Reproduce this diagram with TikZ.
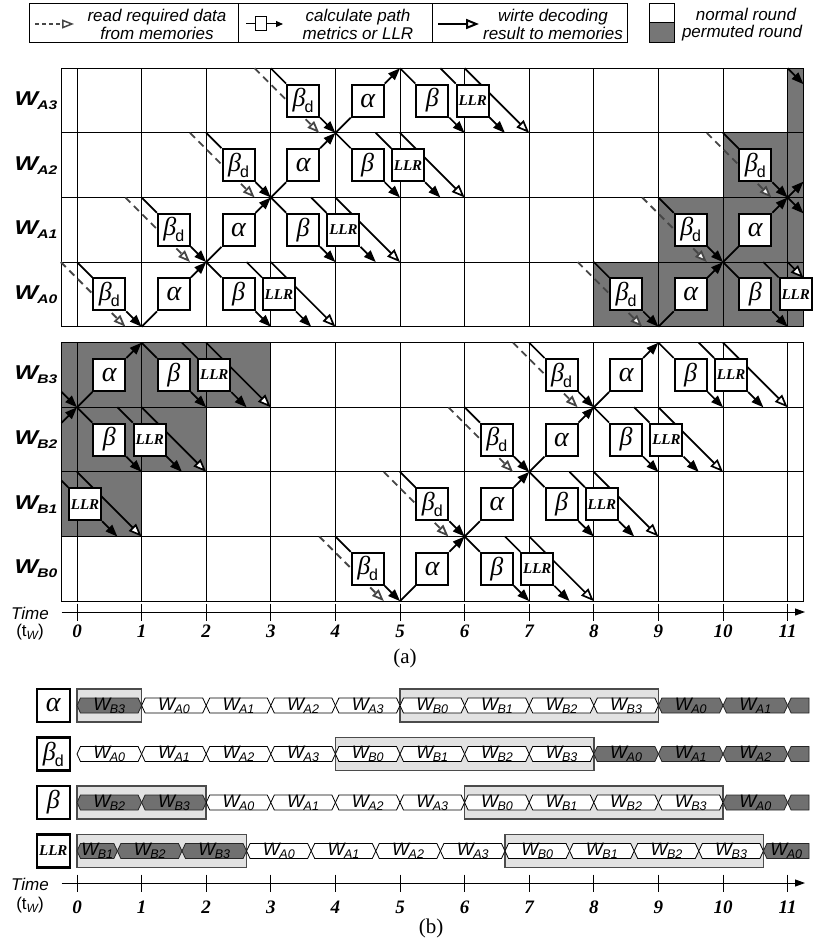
\documentclass[tikz,border=0pt]{standalone}
\usepackage{fontspec}
\setmainfont{Liberation Serif}
\newfontfamily\arial{Liberation Sans}
\newfontfamily\wfont[FakeStretch=1.25]{Liberation Sans}
\usetikzlibrary{arrows.meta}
\definecolor{gfill}{RGB}{118,118,118}
\definecolor{hdark}{RGB}{112,112,112}
\definecolor{lightfill}{RGB}{226,226,226}
\definecolor{lightborder}{RGB}{75,75,75}
\definecolor{rdgray}{RGB}{70,70,70}
\newcommand{\X}[1]{77+64.6*(#1)}
\newcommand{\bdlab}{\fontsize{26}{26}\selectfont\itshape β\kern-1pt\raisebox{-6pt}{\arial\upshape\fontsize{16}{16}\selectfont d}}
\newcommand{\allab}{\fontsize{28}{28}\selectfont\itshape α}
\newcommand{\belab}{\fontsize{26}{26}\selectfont\itshape β}
\newcommand{\llrlab}{\fontsize{15}{15}\selectfont\bfseries\itshape LLR}
\newcommand{\Wlab}[1]{{\wfont\bfseries\itshape\fontsize{20}{20}\selectfont W\kern-1pt\raisebox{-4pt}{\fontsize{12.5}{12.5}\selectfont #1}}}
\newcommand{\Hlab}[1]{{\arial\itshape\fontsize{18}{18}\selectfont W\kern-0.5pt\raisebox{-3pt}{\fontsize{12.5}{12.5}\selectfont #1}}}
\tikzset{
 gridline/.style={line width=0.9pt},
 pbox/.style={draw, line width=2pt, fill=white, minimum width=32pt, minimum height=32pt, inner sep=0pt},
 diag/.style={line width=1.7pt},
 arr/.style={-{Triangle[length=12pt,width=9pt]}},
 readline/.style={draw=rdgray, line width=1.8pt, dash pattern=on 7pt off 5pt, -{Triangle[open,length=12pt,width=9pt,fill=white]}},
 writeline/.style={line width=1.7pt, -{Triangle[open,length=13pt,width=10pt,fill=white]}},
 tnum/.style={font=\fontsize{19}{19}\selectfont\bfseries\itshape},
 hexlab/.style={inner sep=0pt},
 labbox/.style={draw, line width=2.4pt, fill=white, minimum width=33pt, minimum height=33pt, inner sep=0pt},
 lightbox/.style={draw=lightborder, fill=lightfill, line width=1.5pt},
 hexd/.style={draw=black!85, fill=hdark, line width=0.8pt},
 hexw/.style={draw=black, fill=white, line width=0.8pt},
 legtext/.style={align=center, font=\arial\itshape\fontsize{17}{18}\selectfont},
}
\newcommand{\DownBox}[4]{%
  \coordinate (#1s) at ({\X{#2}},{#3});
  \coordinate (#1e) at ({\X{#2+1}},{#3+64.6});
  \node[pbox] (#1) at ({\X{#2}+32.3},{#3+32.3}) {#4};
  \draw[diag] (#1s) -- (#1.north west);
  \draw[diag,arr] (#1.south east) -- (#1e);
}
\newcommand{\UpBox}[4]{%
  \coordinate (#1s) at ({\X{#2}},{#3+64.6});
  \coordinate (#1e) at ({\X{#2+1}},{#3});
  \node[pbox] (#1) at ({\X{#2}+32.3},{#3+32.3}) {#4};
  \draw[diag] (#1s) -- (#1.south west);
  \draw[diag,arr] (#1.north east) -- (#1e);
}
\newcommand{\ReadLine}[3]{%
  \coordinate (#1rs) at ({\X{#2-0.25}},{#3});
  \coordinate (#1re) at ({\X{#2+0.75}},{#3+64.6});
  \draw[readline] (#1rs) -- (#1re);
}
\newcommand{\WriteLine}[3]{%
  \coordinate (#1ws) at ({\X{#2+3}},{#3});
  \coordinate (#1we) at ({\X{#2+4}},{#3+64.6});
  \draw[writeline] (#1ws) -- (#1we);
}
\newcommand{\Window}[3]{%
  \ReadLine{#1}{#2}{#3}
  \WriteLine{#1}{#2}{#3}
  \DownBox{#1bd}{#2}{#3}{\bdlab}
  \UpBox{#1al}{#2+1}{#3}{\allab}
  \DownBox{#1be}{#2+2}{#3}{\belab}
  \DownBox{#1ll}{#2+2.625}{#3}{\llrlab}
}
\newcommand{\Hex}[6]{%
  \draw[#1] ({\X{#3}},#5) -- ({\X{#3}+3.5},{#5-7.5}) -- ({\X{#4}-3.5},{#5-7.5}) -- ({\X{#4}},#5) -- ({\X{#4}-3.5},{#5+7.5}) -- ({\X{#3}+3.5},{#5+7.5}) -- cycle;
  \node[hexlab] (#2) at ({(\X{#3}+\X{#4})/2},#5) {#6};
}
\newcommand{\HexEnd}[5]{%
  \draw[#1] ({\X{#3}},#4) -- ({\X{#3}+3.5},{#4-7.5}) -- (809,{#4-7.5}) -- (809,{#4+7.5}) -- ({\X{#3}+3.5},{#4+7.5}) -- cycle;
  \node[hexlab] (#2) at ({(\X{#3}+809)/2},#4) {#5};
}
\newcommand{\TimeAxis}[4]{%
  \coordinate (#1s) at (61.5,#2);
  \coordinate (#1e) at (805,#2);
  \draw[line width=1pt, -{Triangle[length=10pt,width=7pt]}] (#1s) -- (#1e);
  \foreach \k in {0,...,11} {
    \draw[line width=1pt] ({\X{\k}},{#2-8.5}) -- ({\X{\k}},{#2+8.5});
    \node[tnum] (#1n\k) at ({\X{\k}},#3) {\k};
  }
  \node (#1t) at (30,{#2+1}) {\arial\itshape\fontsize{17}{17}\selectfont Time};
  \node (#1u) at (30,#4) {\arial\fontsize{17}{17}\selectfont (t\raisebox{-3pt}{\itshape\fontsize{12}{12}\selectfont W})};
}
\begin{document}
\begin{tikzpicture}[x=1pt,y=-1pt]
\useasboundingbox (0,0) rectangle (813,941);
% ---------- legend
\draw[line width=1pt] (29.5,4) rectangle (627,43);
\draw[line width=1pt] (238,4) -- (238,43);
\draw[line width=1pt] (432,4) -- (432,43);
\coordinate (li1s) at (35,24); \coordinate (li1e) at (74,24);
\draw[readline, line width=1.5pt, dash pattern=on 4pt off 3pt] (li1s) -- (li1e);
\node[legtext] (lt1) at (157,24) {read required data\\from memories};
\coordinate (li2s) at (246,24); \coordinate (li2e) at (283,24);
\node[draw, line width=1pt, fill=white, minimum width=11pt, minimum height=14pt, inner sep=0pt] (li2b) at (261,24) {};
\draw[line width=1pt] (li2s) -- (li2b.west);
\draw[line width=1pt, -{Triangle[length=7pt,width=6pt]}] (li2b.east) -- (li2e);
\node[legtext] (lt2) at (358,24) {calculate path\\metrics or LLR};
\coordinate (li3s) at (438,24); \coordinate (li3e) at (479,24);
\draw[writeline, line width=2pt] (li3s) -- (li3e);
\node[legtext] (lt3) at (553,24) {wirte decoding\\result to memories};
\draw[line width=1pt, fill=white] (649,4) rectangle (674,23);
\draw[line width=1pt, fill=gfill] (649,23) rectangle (674,43);
\node[legtext] (lt4) at (746,14) {normal round};
\node[legtext] (lt5) at (742,33) {permuted round};
% ---------- gray fills
\fill[gfill] ({\X{11}},68.3) rectangle (803.5,132.9);
\fill[gfill] ({\X{10}},132.9) rectangle (803.5,197.5);
\fill[gfill] ({\X{9}},197.5) rectangle (803.5,262.1);
\fill[gfill] ({\X{8}},262.1) rectangle (803.5,326.7);
\fill[gfill] (61.5,342.7) rectangle ({\X{3}},407.3);
\fill[gfill] (61.5,407.3) rectangle ({\X{2}},471.9);
\fill[gfill] (61.5,471.9) rectangle ({\X{1}},536.5);
% ---------- grids
\foreach \T in {68.3,342.7} {
  \draw[gridline] (61.5,\T) rectangle (803.5,{\T+258.4});
  \foreach \r in {1,2,3} \draw[gridline] (61.5,{\T+64.6*\r}) -- (803.5,{\T+64.6*\r});
  \foreach \k in {0,...,11} \draw[gridline] ({\X{\k}},\T) -- ({\X{\k}},{\T+258.4});
}
% ---------- row labels
\node (rA3) at (36,100.6) {\Wlab{A3}};
\node (rA2) at (36,165.2) {\Wlab{A2}};
\node (rA1) at (36,229.8) {\Wlab{A1}};
\node (rA0) at (36,294.4) {\Wlab{A0}};
\node (rB3) at (36,375) {\Wlab{B3}};
\node (rB2) at (36,439.6) {\Wlab{B2}};
\node (rB1) at (36,504.2) {\Wlab{B1}};
\node (rB0) at (36,568.8) {\Wlab{B0}};
% ---------- normal windows
\Window{a0}{0}{262.1}
\Window{a1}{1}{197.5}
\Window{a2}{2}{132.9}
\Window{a3}{3}{68.3}
\Window{b0}{4}{536.5}
\Window{b1}{5}{471.9}
\Window{b2}{6}{407.3}
\Window{b3}{7}{342.7}
% ---------- second round of A windows (permuted)
\ReadLine{a0p}{8}{262.1}
\coordinate (a0pws) at ({\X{11}},262.1); \coordinate (a0pwe) at (803.5,278);
\draw[writeline] (a0pws) -- (a0pwe);
\DownBox{a0pbd}{8}{262.1}{\bdlab}
\UpBox{a0pal}{9}{262.1}{\allab}
\DownBox{a0pbe}{10}{262.1}{\belab}
\coordinate (a0plls) at ({\X{10.625}},262.1);
\node[pbox] (a0pll) at ({\X{10.625}+32.3},294.4) {\llrlab};
\draw[diag] (a0plls) -- (a0pll.north west);
\ReadLine{a1p}{9}{197.5}
\DownBox{a1pbd}{9}{197.5}{\bdlab}
\UpBox{a1pal}{10}{197.5}{\allab}
\coordinate (a1pbes) at ({\X{11}},197.5); \coordinate (a1pbee) at (803.5,213.4);
\draw[diag,arr] (a1pbes) -- (a1pbee);
\ReadLine{a2p}{10}{132.9}
\DownBox{a2pbd}{10}{132.9}{\bdlab}
\coordinate (a2pals) at ({\X{11}},197.5); \coordinate (a2pale) at (803.5,181.6);
\draw[diag,arr] (a2pals) -- (a2pale);
\coordinate (a3pbds) at ({\X{11}},68.3); \coordinate (a3pbde) at (803.5,84.2);
\draw[diag,arr] (a3pbds) -- (a3pbde);
% ---------- previous round of B windows (permuted)
\coordinate (b3pbds) at (61.5,391.8); \coordinate (b3pbde) at ({\X{0}},407.3);
\draw[diag,arr] (b3pbds) -- (b3pbde);
\WriteLine{b3p}{-1}{342.7}
\UpBox{b3pal}{0}{342.7}{\allab}
\DownBox{b3pbe}{1}{342.7}{\belab}
\DownBox{b3pll}{1.625}{342.7}{\llrlab}
\coordinate (b2pals) at (61.5,422.8); \coordinate (b2pale) at ({\X{0}},407.3);
\draw[diag,arr] (b2pals) -- (b2pale);
\WriteLine{b2p}{-2}{407.3}
\DownBox{b2pbe}{0}{407.3}{\belab}
\DownBox{b2pll}{0.625}{407.3}{\llrlab}
\WriteLine{b1p}{-3}{471.9}
\coordinate (b1plls) at (61.5,480.6); \coordinate (b1plle) at ({\X{0.625}},536.5);
\node[pbox] (b1pll) at ({\X{-0.375}+32.3},504.2) {\llrlab};
\draw[diag] (b1plls) -- (b1pll.north west);
\draw[diag,arr] (b1pll.south east) -- (b1plle);
% ---------- time axis (a)
\TimeAxis{ta}{612}{631}{632}
\node (capa) at (405,658) {\fontsize{21}{21}\selectfont (a)};
% ---------- part (b)
\node[labbox] (lal) at (53.3,705.5) {\allab};
\node[labbox] (lbd) at (53.3,754) {\bdlab};
\node[labbox] (lbe) at (53.3,802.5) {\belab};
\node[labbox] (lll) at (53.3,851) {\llrlab};
% light boxes
\draw[lightbox] ({\X{0}},689) rectangle ({\X{1}},722);
\draw[lightbox] ({\X{5}},689) rectangle ({\X{9}},722);
\draw[lightbox] ({\X{4}},737.5) rectangle ({\X{8}},770.5);
\draw[lightbox] ({\X{0}},786) rectangle ({\X{2}},819);
\draw[lightbox] ({\X{6}},786) rectangle ({\X{10}},819);
\draw[lightbox] ({\X{0}},834.5) rectangle ({\X{2.625}},867.5);
\draw[lightbox] ({\X{6.625}},834.5) rectangle ({\X{10.625}},867.5);
% alpha row
\Hex{hexd}{h1a}{0}{1}{705.5}{\Hlab{B3}}
\Hex{hexw}{h1b}{1}{2}{705.5}{\Hlab{A0}}
\Hex{hexw}{h1c}{2}{3}{705.5}{\Hlab{A1}}
\Hex{hexw}{h1d}{3}{4}{705.5}{\Hlab{A2}}
\Hex{hexw}{h1e}{4}{5}{705.5}{\Hlab{A3}}
\Hex{hexw}{h1f}{5}{6}{705.5}{\Hlab{B0}}
\Hex{hexw}{h1g}{6}{7}{705.5}{\Hlab{B1}}
\Hex{hexw}{h1h}{7}{8}{705.5}{\Hlab{B2}}
\Hex{hexw}{h1i}{8}{9}{705.5}{\Hlab{B3}}
\Hex{hexd}{h1j}{9}{10}{705.5}{\Hlab{A0}}
\Hex{hexd}{h1k}{10}{11}{705.5}{\Hlab{A1}}
\HexEnd{hexd}{h1l}{11}{705.5}{}
% beta_d row
\Hex{hexw}{h2a}{0}{1}{754}{\Hlab{A0}}
\Hex{hexw}{h2b}{1}{2}{754}{\Hlab{A1}}
\Hex{hexw}{h2c}{2}{3}{754}{\Hlab{A2}}
\Hex{hexw}{h2d}{3}{4}{754}{\Hlab{A3}}
\Hex{hexw}{h2e}{4}{5}{754}{\Hlab{B0}}
\Hex{hexw}{h2f}{5}{6}{754}{\Hlab{B1}}
\Hex{hexw}{h2g}{6}{7}{754}{\Hlab{B2}}
\Hex{hexw}{h2h}{7}{8}{754}{\Hlab{B3}}
\Hex{hexd}{h2i}{8}{9}{754}{\Hlab{A0}}
\Hex{hexd}{h2j}{9}{10}{754}{\Hlab{A1}}
\Hex{hexd}{h2k}{10}{11}{754}{\Hlab{A2}}
\HexEnd{hexd}{h2l}{11}{754}{}
% beta row
\Hex{hexd}{h3a}{0}{1}{802.5}{\Hlab{B2}}
\Hex{hexd}{h3b}{1}{2}{802.5}{\Hlab{B3}}
\Hex{hexw}{h3c}{2}{3}{802.5}{\Hlab{A0}}
\Hex{hexw}{h3d}{3}{4}{802.5}{\Hlab{A1}}
\Hex{hexw}{h3e}{4}{5}{802.5}{\Hlab{A2}}
\Hex{hexw}{h3f}{5}{6}{802.5}{\Hlab{A3}}
\Hex{hexw}{h3g}{6}{7}{802.5}{\Hlab{B0}}
\Hex{hexw}{h3h}{7}{8}{802.5}{\Hlab{B1}}
\Hex{hexw}{h3i}{8}{9}{802.5}{\Hlab{B2}}
\Hex{hexw}{h3j}{9}{10}{802.5}{\Hlab{B3}}
\Hex{hexd}{h3k}{10}{11}{802.5}{\Hlab{A0}}
\HexEnd{hexd}{h3l}{11}{802.5}{}
% LLR row
\Hex{hexd}{h4a}{0}{0.625}{851}{\Hlab{B1}}
\Hex{hexd}{h4b}{0.625}{1.625}{851}{\Hlab{B2}}
\Hex{hexd}{h4c}{1.625}{2.625}{851}{\Hlab{B3}}
\Hex{hexw}{h4d}{2.625}{3.625}{851}{\Hlab{A0}}
\Hex{hexw}{h4e}{3.625}{4.625}{851}{\Hlab{A1}}
\Hex{hexw}{h4f}{4.625}{5.625}{851}{\Hlab{A2}}
\Hex{hexw}{h4g}{5.625}{6.625}{851}{\Hlab{A3}}
\Hex{hexw}{h4h}{6.625}{7.625}{851}{\Hlab{B0}}
\Hex{hexw}{h4i}{7.625}{8.625}{851}{\Hlab{B1}}
\Hex{hexw}{h4j}{8.625}{9.625}{851}{\Hlab{B2}}
\Hex{hexw}{h4k}{9.625}{10.625}{851}{\Hlab{B3}}
\HexEnd{hexd}{h4l}{10.625}{851}{\Hlab{A0}}
% ---------- time axis (b)
\TimeAxis{tb}{883}{907}{905}
\node (capb) at (431,928) {\fontsize{21}{21}\selectfont (b)};
\end{tikzpicture}
\end{document}
